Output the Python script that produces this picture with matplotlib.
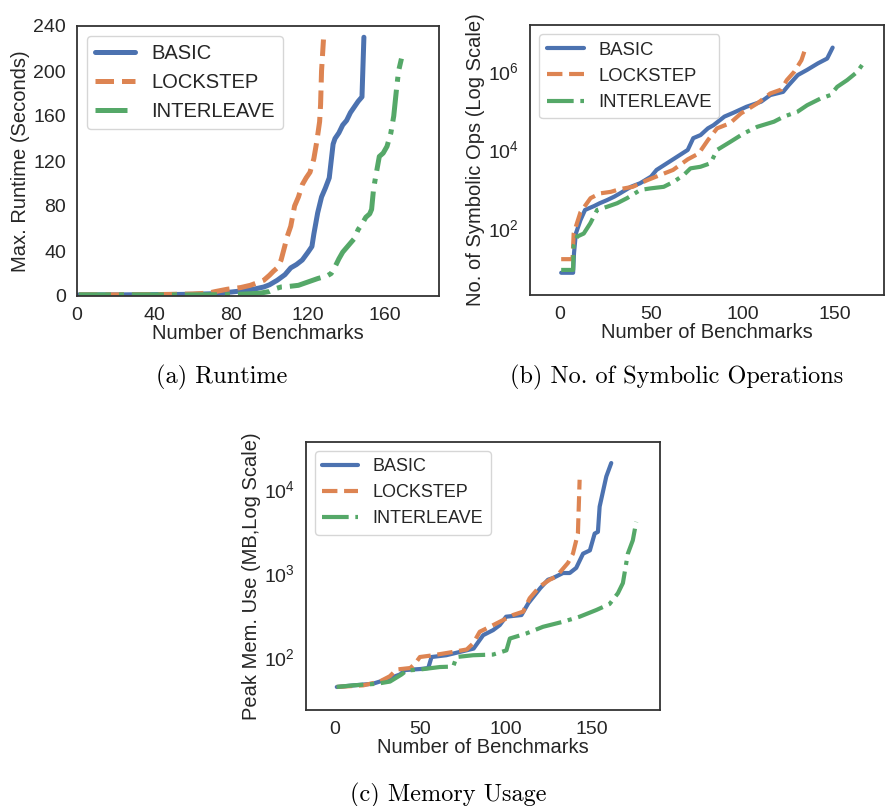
import matplotlib
matplotlib.use("Agg")
import matplotlib.pyplot as plt
import seaborn as sns

# (a) runtime, seconds
rt_basic_x = [1, 20, 40, 60, 70, 80, 88, 93, 97, 100, 104, 108, 111, 114, 117, 120, 122, 123,
              125, 127, 129, 131, 132, 133, 134, 136, 138, 140, 142, 144, 146, 148, 149]
rt_basic_y = [1, 1, 1.2, 1.5, 2, 3.5, 5, 6.5, 8, 10, 14, 19, 25, 28, 32, 39, 44, 55,
              74, 88, 96, 105, 120, 135, 140, 145, 152, 156, 163, 168, 173, 177, 230]
rt_lock_x = [1, 20, 40, 60, 68, 72, 78, 85, 90, 94, 97, 100, 102, 104, 106, 108, 109, 111, 113,
             115, 117, 119, 121, 123, 124.5, 126, 126.5, 127, 128]
rt_lock_y = [1, 1, 1.2, 1.8, 2.5, 4, 6, 7.5, 9.5, 12, 14, 18.5, 22, 25, 32, 45, 52, 62, 80,
             88, 99, 105, 110, 122, 137, 155, 170, 200, 228]
rt_inter_x = [1, 20, 40, 60, 80, 90, 95, 100, 103, 106, 110, 115, 120, 125, 130, 132, 134, 136,
              138, 140, 142, 144, 146, 148, 150, 152, 153, 154, 155, 157, 159, 161, 163, 164.5,
              166, 167, 168.5]
rt_inter_y = [1, 1, 1, 1, 1.2, 2, 2.5, 4, 6.5, 8, 8.5, 9.5, 12.5, 15.5, 18, 20, 26, 33,
              39, 43, 47, 51, 59, 64, 70, 73, 77, 95, 105, 124, 127, 133, 145, 160,
              185, 200, 211]

# (b) number of symbolic operations
op_basic_x = [1, 7.5, 8, 9, 11.5, 14, 19, 22, 26, 30, 33, 39, 44, 50, 53, 57, 62, 70, 73, 77,
              81, 84, 90, 95, 102, 110, 115, 122, 125, 130, 135, 141, 146, 149]
op_basic_y = [7.2, 7.2, 23, 72, 158, 288, 363, 427, 513, 631, 760, 1120, 1380, 2040, 3020,
              3980, 5620, 9770, 19500, 23400, 34700, 41700, 69200, 87100, 123000, 166000,
              245000, 295000, 437000, 794000, 1.07e6, 1.58e6, 2.09e6, 3.98e6]
op_lock_x = [1, 7.2, 7.8, 11.5, 17, 22, 28, 33, 40, 48, 55, 62, 70, 76, 81, 86, 93, 99, 108,
             115, 121, 124, 128, 132, 134]
op_lock_y = [16, 16, 72, 251, 575, 760, 832, 977, 1120, 1660, 2240, 3020, 5620, 7940, 17400,
             34700, 46800, 83200, 151000, 269000, 339000, 589000, 955000, 1.9e6, 3.63e6]
op_inter_x = [1, 7.5, 7.8, 9.6, 13.3, 16.9, 20.6, 26, 31.5, 36.9, 44.2, 49.6, 56.9, 62.4, 67.8,
              71.5, 76.9, 82.4, 86, 93.3, 100.5, 107.9, 117, 122.4, 129.7, 135.1, 142.4, 147.8,
              151.5, 156.9, 162.4, 165.7]
op_inter_y = [8.5, 8.5, 35, 60, 72, 132, 288, 347, 427, 575, 933, 1020, 1120, 1510, 2240,
              3310, 3630, 4470, 9770, 15800, 25700, 38000, 51300, 69200, 91200, 135000,
              200000, 245000, 398000, 589000, 955000, 1.58e6]

# (c) peak memory, MB
mem_basic_x = [1, 11, 22, 30, 38, 41, 50, 54.5, 56.4, 65, 73, 81, 86.6, 92.4, 96.3, 100, 109,
               113, 120, 124.5, 127.4, 133.3, 137.2, 141, 145, 149, 151.8, 153.7, 154.7,
               158.6, 161.5]
mem_basic_y = [44, 46, 48, 54, 62, 70, 72, 74, 100, 105, 115, 126, 182, 209, 240, 302, 316,
               437, 661, 832, 871, 1000, 1000, 1150, 1700, 1860, 2950, 3090, 6170, 14100, 20400]
mem_lock_x = [1, 16.5, 26, 32, 36, 44, 46.7, 49.6, 57.4, 69, 77, 80.7, 84.6, 90.5, 98.2, 104,
              110, 113.8, 119.7, 125.5, 129.4, 136.2, 139.1, 142, 143]
mem_lock_y = [44, 46, 51, 59, 71, 74, 83, 100, 105, 115, 123, 145, 200, 229, 275, 316, 347,
              501, 692, 832, 912, 1320, 1700, 2950, 12900]
mem_inter_x = [1, 10.7, 24.3, 32.1, 38.9, 41.8, 49.6, 61.3, 69.1, 71, 80.7, 92.4, 100.2, 102.2,
               111.9, 121.6, 133.3, 143, 152.8, 160.5, 165.4, 168.3, 171.2, 174.1, 176.1]
mem_inter_y = [44, 46, 48, 51, 62, 69, 71, 76, 77, 100, 105, 107, 120, 166, 191, 229, 263, 302,
               363, 427, 575, 759, 1700, 2450, 4070]

labels = ["BASIC", "LOCKSTEP", "INTERLEAVE"]
colors = ["#4C72B0", "#DD8452", "#55A868"]
styles = ["-", "--", "-."]

sns.set_theme(style="white")
plt.rcParams["font.family"] = ["Liberation Sans", "DejaVu Sans"]
plt.rcParams["axes.edgecolor"] = ".2"
plt.rcParams["axes.linewidth"] = 1.3

fig = plt.figure(figsize=(8.87, 8.06), dpi=100)


def panel(rect, series, lw, fs, legend_fs):
    ax = fig.add_axes(rect)
    for (x, y), lab, c, ls in zip(series, labels, colors, styles):
        ax.plot(x, y, ls, color=c, lw=lw, label=lab)
    ax.tick_params(labelsize=fs, pad=2)
    ax.legend(loc="upper left", fontsize=legend_fs, handlelength=2.0)
    return ax


W, H = 887, 806


def rect(l, t, r, b):
    return [l / W, 1 - b / H, (r - l) / W, (b - t) / H]


ax1 = panel(rect(77, 26, 439, 296),
            [(rt_basic_x, rt_basic_y), (rt_lock_x, rt_lock_y), (rt_inter_x, rt_inter_y)],
            3.6, 14, 14.5)
ax1.set_xlim(0, 188)
ax1.set_ylim(0, 240)
ax1.set_xticks([0, 40, 80, 120, 160])
ax1.set_yticks([0, 40, 80, 120, 160, 200, 240])
ax1.set_xlabel("Number of Benchmarks", fontsize=14.5, labelpad=0)
ax1.set_ylabel("Max. Runtime (Seconds)", fontsize=14.5, labelpad=2)

ax2 = panel(rect(530, 25, 884, 295),
            [(op_basic_x, op_basic_y), (op_lock_x, op_lock_y), (op_inter_x, op_inter_y)],
            3.0, 14, 13.3)
ax2.set_yscale("log")
ax2.set_xlim(-16, 177)
ax2.set_ylim(1.95, 1.5e7)
ax2.set_xticks([0, 50, 100, 150])
ax2.set_yticks([1e2, 1e4, 1e6])
ax2.minorticks_off()
ax2.set_xlabel("Number of Benchmarks", fontsize=14.5, labelpad=0)
ax2.set_ylabel("No. of Symbolic Ops (Log Scale)", fontsize=14.5, labelpad=2)

ax3 = panel(rect(306, 442, 660, 710),
            [(mem_basic_x, mem_basic_y), (mem_lock_x, mem_lock_y), (mem_inter_x, mem_inter_y)],
            3.0, 14, 13)
ax3.set_yscale("log")
ax3.set_xlim(-17, 190)
ax3.set_ylim(23.4, 36300)
ax3.set_xticks([0, 50, 100, 150])
ax3.set_yticks([1e2, 1e3, 1e4])
ax3.minorticks_off()
ax3.set_xlabel("Number of Benchmarks", fontsize=14.5, labelpad=0)
ax3.set_ylabel("Peak Mem. Use (MB,Log Scale)", fontsize=14.5, labelpad=2)

cap = dict(fontfamily="cmr10", fontsize=17.5, color="black", ha="center", va="center")
fig.text(222 / W, 1 - 377 / H, "(a) Runtime", **cap)
fig.text(677 / W, 1 - 377 / H, "(b) No. of Symbolic Operations", **cap)
fig.text(448 / W, 1 - 795 / H, "(c) Memory Usage", **cap)

fig.savefig("out.png", dpi=100)
